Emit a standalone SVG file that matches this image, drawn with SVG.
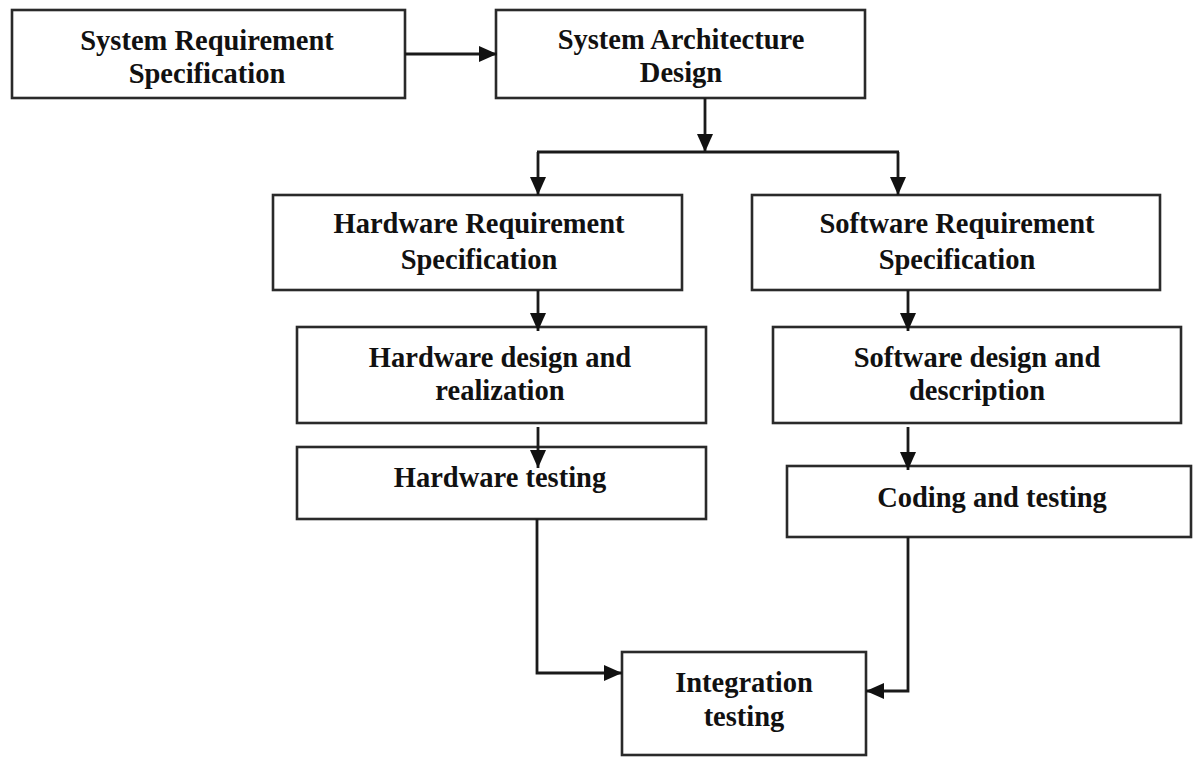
<svg xmlns="http://www.w3.org/2000/svg" width="1193" height="758" viewBox="0 0 1193 758">
<style>
.box{fill:#fff;stroke:#2a2a2a;stroke-width:2.6}
.lbl{font-family:"Liberation Serif","Times New Roman",serif;font-weight:bold;font-size:28.5px;fill:#111;text-anchor:middle}
.con{fill:none;stroke:#1a1a1a;stroke-width:2.8}
</style>
<defs>
<marker id="ah" markerWidth="18" markerHeight="16" refX="18" refY="8" orient="auto" markerUnits="userSpaceOnUse">
<path d="M0,0 L18,8 L0,16 Z" fill="#111"/>
</marker>
</defs>
<rect width="1193" height="758" fill="#fff"/>
<g id="sysreq">
<rect class="box" x="12" y="10" width="393" height="88"/>
<text class="lbl" x="207" y="50">System Requirement</text>
<text class="lbl" x="207" y="83">Specification</text>
</g>
<g id="sysarch">
<rect class="box" x="496" y="10" width="369" height="88"/>
<text class="lbl" x="681" y="49">System Architecture</text>
<text class="lbl" x="681" y="82">Design</text>
</g>
<g id="hwreq">
<rect class="box" x="273" y="195" width="409" height="95"/>
<text class="lbl" x="479" y="233">Hardware Requirement</text>
<text class="lbl" x="479" y="269">Specification</text>
</g>
<g id="swreq">
<rect class="box" x="752" y="195" width="408" height="95"/>
<text class="lbl" x="957" y="233">Software Requirement</text>
<text class="lbl" x="957" y="269">Specification</text>
</g>
<g id="hwdesign">
<rect class="box" x="297" y="327" width="409" height="96"/>
<text class="lbl" x="500" y="367">Hardware design and</text>
<text class="lbl" x="500" y="400">realization</text>
</g>
<g id="swdesign">
<rect class="box" x="773" y="327" width="408" height="96"/>
<text class="lbl" x="977" y="367">Software design and</text>
<text class="lbl" x="977" y="400">description</text>
</g>
<g id="hwtest">
<rect class="box" x="297" y="447" width="409" height="72"/>
<text class="lbl" x="500" y="487">Hardware testing</text>
</g>
<g id="coding">
<rect class="box" x="787" y="466" width="404" height="71"/>
<text class="lbl" x="992" y="507">Coding and testing</text>
</g>
<g id="integration">
<rect class="box" x="622" y="652" width="244" height="103"/>
<text class="lbl" x="744" y="692">Integration</text>
<text class="lbl" x="744" y="726">testing</text>
</g>
<g id="connectors">
<path class="con" d="M405,54 H497" marker-end="url(#ah)"/>
<path class="con" d="M705,98 V152" marker-end="url(#ah)"/>
<path class="con" d="M537,152 H899"/>
<path class="con" d="M538,152 V195" marker-end="url(#ah)"/>
<path class="con" d="M898,152 V195" marker-end="url(#ah)"/>
<path class="con" d="M538,290 V331" marker-end="url(#ah)"/>
<path class="con" d="M908,290 V331" marker-end="url(#ah)"/>
<path class="con" d="M538,427 V468" marker-end="url(#ah)"/>
<path class="con" d="M908,427 V470" marker-end="url(#ah)"/>
<path class="con" d="M537,519 V673 H622" marker-end="url(#ah)"/>
<path class="con" d="M908,537 V691 H866" marker-end="url(#ah)"/>
</g>
</svg>
